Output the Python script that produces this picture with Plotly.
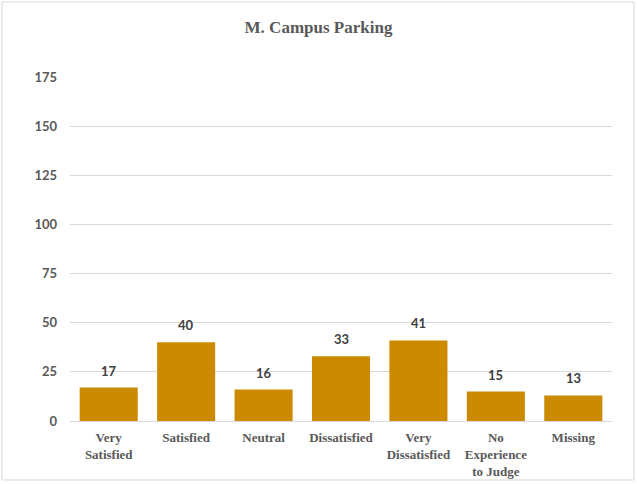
import plotly.graph_objects as go

categories = ["Very<br>Satisfied", "Satisfied", "Neutral", "Dissatisfied",
              "Very<br>Dissatisfied", "No<br>Experience<br>to Judge", "Missing"]
counts = [17, 40, 16, 33, 41, 15, 13]
y_ticks = [0, 25, 50, 75, 100, 125, 150, 175]

BAR = "#CC8A00"
GRAY = "#595959"

fig = go.Figure(go.Bar(
    x=categories, y=counts,
    marker=dict(color=BAR, line=dict(width=0)),
    cliponaxis=False,
))

# value labels above each bar
for cat, val in zip(categories, counts):
    fig.add_annotation(x=cat, y=val, text=str(val), showarrow=False,
                       yanchor="bottom", yshift=7,
                       font=dict(family="Lato", size=13, color="#404040", weight="bold"))

fig.update_layout(
    width=637, height=484,
    margin=dict(l=70, r=25, t=77, b=63, autoexpand=False),
    paper_bgcolor="white", plot_bgcolor="white",
    bargap=0.25,
    showlegend=False,
    title=dict(text="M. Campus Parking", x=0.5, xanchor="center", y=0.945, yanchor="middle",
               font=dict(family="Liberation Serif", size=17, color=GRAY, weight="bold")),
    xaxis=dict(tickfont=dict(family="Liberation Serif", size=13, color=GRAY, weight="bold"),
               showline=False, ticks="", showgrid=False, ticklabelstandoff=7,
               automargin=False),
    yaxis=dict(range=[0, 175], tickvals=y_ticks, showgrid=True, gridcolor="#d9d9d9",
               gridwidth=1, zeroline=True, zerolinecolor="#d9d9d9", zerolinewidth=1,
               tickfont=dict(family="Lato", size=13, color=GRAY, weight="bold"),
               ticks="", ticklabelstandoff=12, automargin=False),
    shapes=[dict(type="rect", xref="paper", yref="paper",
                 x0=-0.1255, x1=1.0406, y0=-0.1715, y1=1.218,
                 line=dict(color="#d9d9d9", width=1), fillcolor="rgba(0,0,0,0)", layer="below")],
)

fig.write_html("out.html")
